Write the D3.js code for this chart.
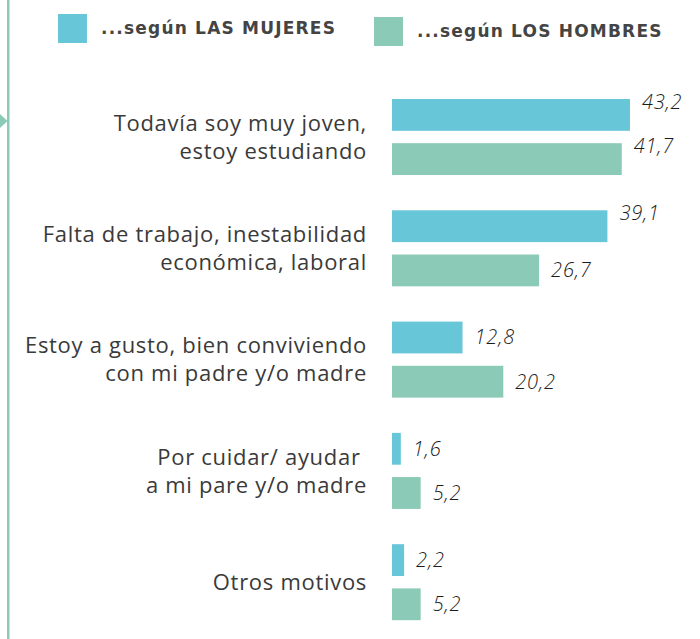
<!DOCTYPE html>
<html>
<head>
<meta charset="utf-8">
<script src="https://cdn.jsdelivr.net/npm/d3@7"></script>
<style>
  html, body { margin: 0; padding: 0; background: #fff; }
  svg { display: block; }
  .cat { font-family: 'Open Sans', sans-serif; font-size: 22px; letter-spacing: 0.7px; fill: #3a3a3a; }
  .val { font-family: 'Open Sans', sans-serif; font-size: 20px; font-style: italic; font-weight: 300; letter-spacing: 0.8px; fill: #1c1c1c; }
  .leg { font-family: 'DejaVu Sans', sans-serif; font-size: 17px; font-weight: 700; letter-spacing: 1.2px; fill: #444; }
</style>
</head>
<body>
<div id="chart"></div>
<script>
const categories = [
  ['Todavía soy muy joven,', 'estoy estudiando'],
  ['Falta de trabajo, inestabilidad', 'económica, laboral'],
  ['Estoy a gusto, bien conviviendo', 'con mi padre y/o madre'],
  ['Por cuidar/ ayudar ', 'a mi pare y/o madre'],
  ['Otros motivos'],
];
const mujeres = [43.2, 39.1, 12.8, 1.6, 2.2];
const hombres = [41.7, 26.7, 20.2, 5.2, 5.2];
const seriesNames = ['...según LAS MUJERES', '...según LOS HOMBRES'];
const colors = ['#68c6d9', '#8bcab6'];

const width = 700, height = 639;
const fmt = (v) => d3.format('.1f')(v).replace('.', ',');

const svg = d3.select('#chart').append('svg')
  .attr('width', width)
  .attr('height', height);

// left rule with the small arrow
svg.append('rect')
  .attr('x', 7).attr('y', 0)
  .attr('width', 2.5).attr('height', height)
  .attr('fill', colors[1]);
svg.append('path')
  .attr('d', 'M0,114 L7.5,121 L0,128 Z')
  .attr('fill', colors[1]);

const x = d3.scaleLinear().domain([0, 43.2]).range([392, 630]);
const y = d3.scaleBand()
  .domain(d3.range(categories.length))
  .range([99, 620.2])
  .paddingInner(0.317)
  .paddingOuter(0);
const ySub = d3.scaleBand()
  .domain([0, 1])
  .range([0, y.bandwidth()])
  .paddingInner(0.28);

const rows = categories.map((c, i) => ({ i, lines: c, vals: [mujeres[i], hombres[i]] }));

const g = svg.append('g');
const row = g.selectAll('g.row')
  .data(rows)
  .join('g')
  .attr('class', 'row')
  .attr('transform', (d) => `translate(0,${y(d.i)})`);

row.append('text')
  .attr('class', 'cat')
  .attr('text-anchor', 'end')
  .attr('x', 367)
  .attr('y', y.bandwidth() / 2)
  .selectAll('tspan')
  .data((d) => d.lines.map((t, k) => ({ t, k, n: d.lines.length })))
  .join('tspan')
  .attr('x', 367)
  .attr('y', (d) => y.bandwidth() / 2 + (d.k - (d.n - 1) / 2) * 28)
  .attr('dy', '0.35em')
  .attr('xml:space', 'preserve')
  .text((d) => d.t);

const bar = row.selectAll('g.bar')
  .data((d) => d.vals.map((v, s) => ({ v, s })))
  .join('g')
  .attr('class', 'bar');

bar.append('rect')
  .attr('x', x(0))
  .attr('y', (d) => ySub(d.s))
  .attr('width', (d) => x(d.v) - x(0))
  .attr('height', ySub.bandwidth())
  .attr('fill', (d) => colors[d.s]);

bar.append('text')
  .attr('class', 'val')
  .attr('x', (d) => x(d.v) + 12)
  .attr('y', (d) => ySub(d.s) + (d.v > 35 ? 3 : ySub.bandwidth() / 2))
  .attr('dy', '0.35em')
  .text((d) => fmt(d.v));

// legend
const legX = [58, 374];
const legY = [14, 17];
const leg = svg.append('g').selectAll('g')
  .data(seriesNames)
  .join('g')
  .attr('transform', (d, i) => `translate(${legX[i]},${legY[i]})`);
leg.append('rect')
  .attr('width', 29).attr('height', 29)
  .attr('fill', (d, i) => colors[i]);
leg.append('text')
  .attr('class', 'leg')
  .attr('x', 43)
  .attr('y', 14.5)
  .attr('dy', '0.35em')
  .text((d) => d);
</script>
</body>
</html>
